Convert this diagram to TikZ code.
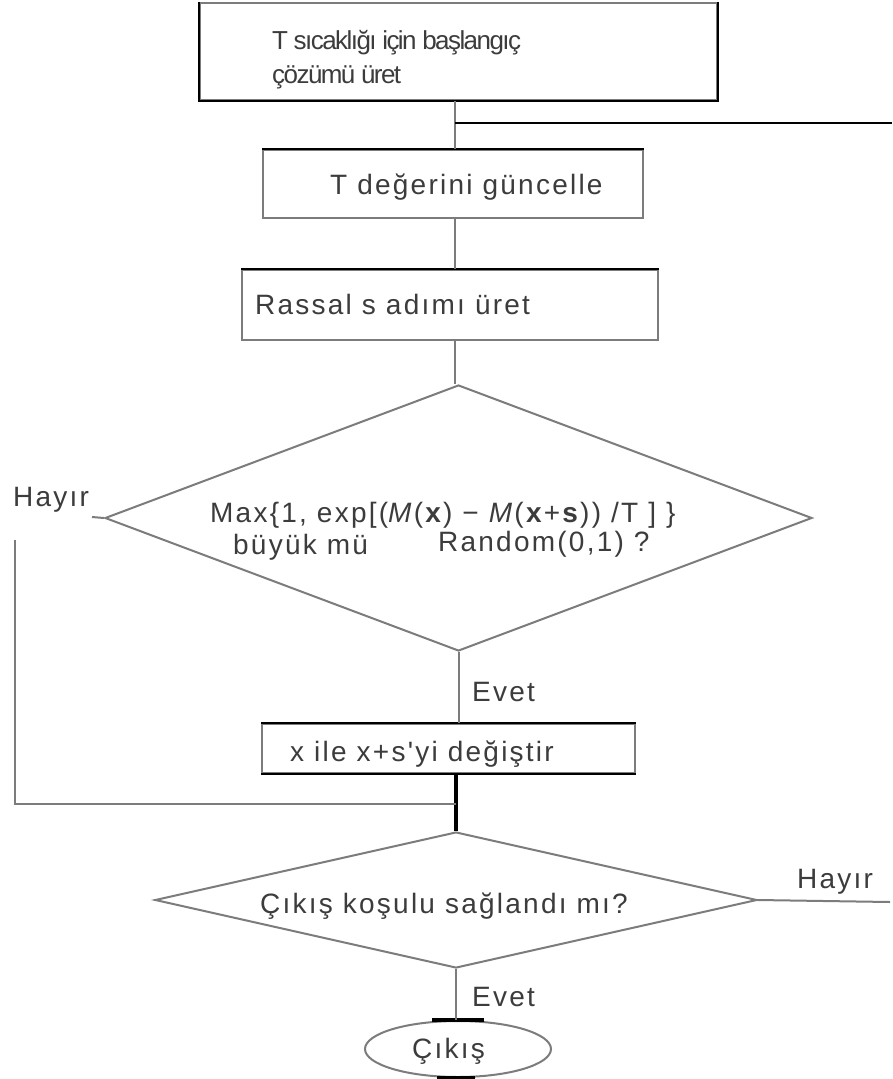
\documentclass[tikz,border=0pt]{standalone}
\usepackage{fontspec}
\setmainfont{Liberation Sans}
\newfontfamily\lblfont[LetterSpace=8]{Liberation Sans}
\newfontfamily\tightfont[LetterSpace=-6]{Liberation Sans}
\usetikzlibrary{shapes.geometric}
\definecolor{edgegray}{HTML}{7C7C7C}
\definecolor{textgray}{HTML}{3C3C3C}
\begin{document}
\begin{tikzpicture}[x=1pt,y=-1pt,
  ln/.style={draw=edgegray, line width=2pt},
  dk/.style={draw=black, line width=2pt},
  thick dk/.style={draw=black, line width=3.5pt},
  boxnode/.style={rectangle, draw=edgegray, line width=2pt, inner sep=0pt},
  decision/.style={diamond, draw=edgegray, line width=2pt, inner sep=0pt},
  terminal/.style={ellipse, draw=edgegray, line width=2pt, inner sep=0pt},
  lbl/.style={inner sep=0pt, anchor=base west, text=textgray,
    font={\lblfont\fontsize{28}{32}\selectfont}},
  lbltight/.style={inner sep=0pt, anchor=base west, text=textgray,
    font={\tightfont\fontsize{26}{30}\selectfont}}
]
\useasboundingbox[fill=white] (0,0) rectangle (892,1079);

% process boxes
\node[boxnode, minimum width=517pt, minimum height=97pt] (b1) at (458.5,51.5) {};
\node[boxnode, minimum width=380pt, minimum height=68pt] (b2) at (453,184) {};
\node[boxnode, minimum width=416pt, minimum height=70pt] (b3) at (450,305) {};
\node[boxnode, minimum width=373pt, minimum height=49pt] (b4) at (448.5,748.5) {};

% decisions and terminal
\node[decision, minimum width=707pt, minimum height=266pt] (d1) at (458.5,518) {};
\node[decision, minimum width=602pt, minimum height=136pt] (d2) at (456,900) {};
\node[terminal, minimum width=186pt, minimum height=56pt] (end) at (458,1049) {};

% darker edges of the boxes
\draw[dk] (b1.north east) -- (b1.south east) -- (b1.south west) -- (b1.north west);
\draw[dk] (b2.north west) -- (b2.north east);
\draw[dk] (b3.north west) -- (b3.north east);
\draw[dk] (b4.north west) -- (b4.north east);
\draw[dk] (b4.south west) -- (b4.south east);
\draw[thick dk] ([xshift=-26pt]end.north) -- ([xshift=26pt]end.north);
\draw[thick dk] ([xshift=-21pt]end.south) -- ([xshift=17pt]end.south);

% main spine coordinates
\coordinate (j1) at (455,123);
\coordinate (rt) at (892,123);
\coordinate (j2) at (456,804);
\coordinate (lstub) at (92,517);
\coordinate (ltop) at (15,540);
\coordinate (lbot) at (15,804);
\coordinate (rend) at (890,902);

% connectors
\draw[ln] (b1.south -| j1) -- (b2.north -| j1);
\draw[dk] (j1) -- (rt);
\draw[ln] (b2.south -| j1) -- (b3.north -| j1);
\draw[ln] (b3.south -| j1) -- (d1.north -| j1);
\draw[ln] (d1.south) -- (b4.north -| d1.south);
\draw[thick dk] (b4.south -| j2) -- (d2.north -| j2);
\draw[ln] (d1.west) -- (lstub);
\draw[ln] (ltop) -- (lbot) -- (j2);
\draw[ln] (d2.east) -- (rend);
\draw[ln] (d2.south) -- (end.north -| d2.south);

% texts
\node[lbltight] (t1a) at (272,49) {T sıcaklığı için başlangıç};
\node[lbltight] (t1b) at (272,83) {çözümü üret};
\node[lbl] (t2) at (330,194) {T değerini güncelle};
\node[lbl] (t3) at (255,314) {Rassal s adımı üret};
\node[lbl] (t4a) at (210,522) {Max\{1, exp[(\textit{M}(\textbf{x}) − \textit{M}(\textbf{x}+\textbf{s})) /T ] \}};
\node[lbl] (t4b) at (233,554) {büyük mü};
\node[lbl] (t4c) at (438,551) {Random(0,1) ?};
\node[lbl] (hl) at (13,506) {Hayır};
\node[lbl] (e1) at (472,701) {Evet};
\node[lbl] (t5) at (290,761) {x ile x+s'yi değiştir};
\node[lbl] (t6) at (260,913) {Çıkış koşulu sağlandı mı?};
\node[lbl] (hr) at (797,888) {Hayır};
\node[lbl] (e2) at (472,1006) {Evet};
\node[lbl] (t7) at (412,1058) {Çıkış};
\end{tikzpicture}
\end{document}
